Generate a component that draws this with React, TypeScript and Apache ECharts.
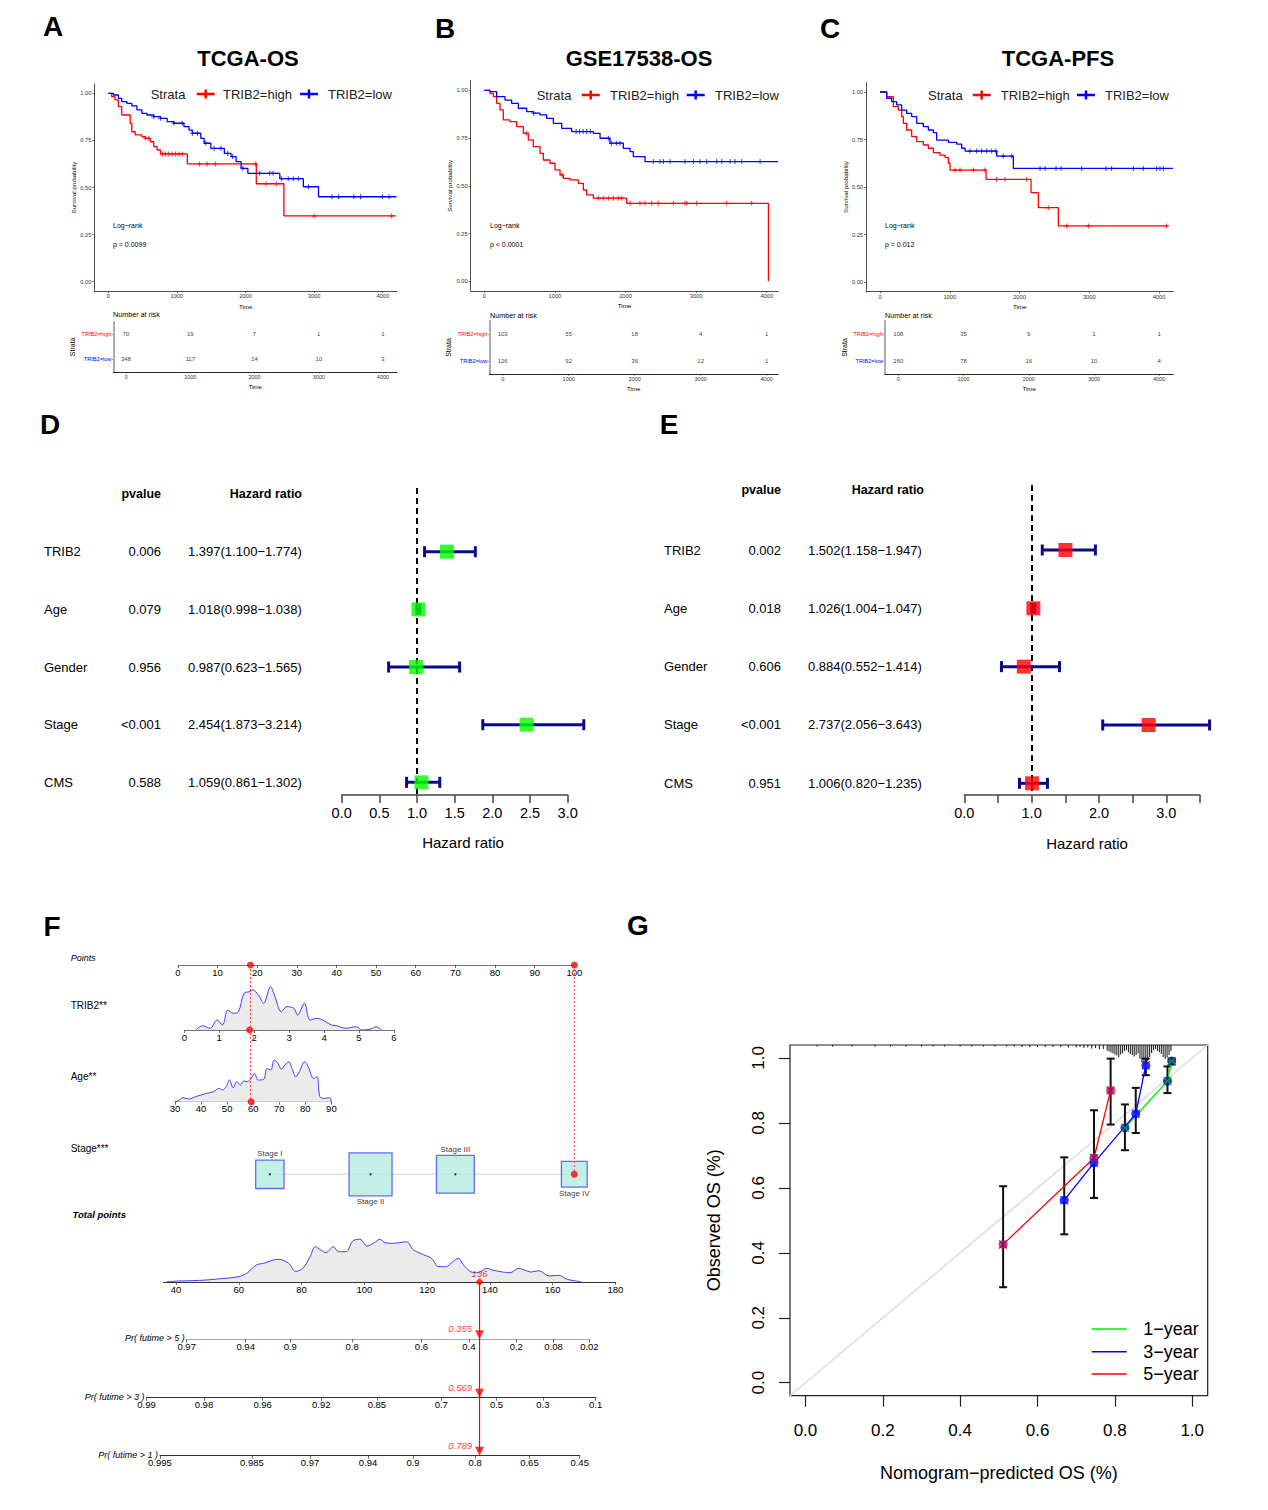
import React, { useEffect, useRef } from "react";
import * as echarts from "echarts";

const FONT = "'Liberation Sans', Arial, Helvetica, sans-serif";

// ================= A–C : Kaplan–Meier =================
const kmTitles = ["TCGA-OS", "GSE17538-OS", "TCGA-PFS"];
const kmPLabels = ["p = 0.0099", "p < 0.0001", "p = 0.012"];
const timeTicks = [0, 1000, 2000, 3000, 4000];
const survTicks = [0, 0.25, 0.5, 0.75, 1];
const strataNames = ["TRIB2=high", "TRIB2=low"];

const kmA_high = [[0,1],[49,0.982],[98,0.965],[147,0.929],[196,0.885],[319,0.84],[343,0.796],[392,0.779],[490,0.77],[539,0.761],[613,0.743],[662,0.717],[711,0.699],[760,0.678],[1152,0.625],[2157,0.52],[2559,0.349],[4191,0.349]];
const kmA_low = [[0,1],[74,0.991],[147,0.973],[196,0.956],[270,0.947],[343,0.933],[417,0.912],[490,0.894],[564,0.885],[662,0.876],[760,0.867],[858,0.85],[956,0.841],[1103,0.823],[1176,0.805],[1225,0.788],[1348,0.761],[1397,0.735],[1495,0.708],[1691,0.681],[1789,0.664],[1863,0.637],[1936,0.602],[2034,0.575],[2500,0.547],[2843,0.504],[3064,0.451],[4200,0.451]];
const censA_high = [539,588,790,830,880,930,980,1030,1080,1330,1440,1560,2150,2300,2450,3000,4130];
const censA_low = [662,760,956,1078,1225,1300,1422,1544,1642,1740,1814,1961,2206,2353,2402,2525,2623,2696,2770,2917,3260,3358,3578,3676,3995,4093];
const riskA_high = [70, 19, 7, 1, 1];
const riskA_low = [348, 117, 24, 10, 3];

const kmB_high = [[0,1],[80,0.984],[128,0.967],[175,0.932],[222,0.897],[269,0.845],[364,0.836],[458,0.81],[553,0.775],[623,0.74],[694,0.705],[789,0.67],[836,0.635],[930,0.618],[1001,0.583],[1072,0.557],[1119,0.539],[1214,0.531],[1332,0.513],[1403,0.478],[1450,0.452],[1544,0.435],[2017,0.408],[4024,0]];
const kmB_low = [[0,1],[80,0.993],[175,0.967],[293,0.949],[387,0.932],[482,0.906],[600,0.888],[694,0.88],[789,0.871],[883,0.853],[978,0.827],[1096,0.801],[1237,0.784],[1544,0.775],[1639,0.749],[1780,0.723],[1969,0.696],[2064,0.679],[2111,0.653],[2276,0.627],[4160,0.627]];
const censB_high = [600,1100,1615,1686,1757,1828,1898,1946,2064,2205,2276,2371,2465,2678,2843,2867,3008,3433,3787];
const censB_low = [700,1300,1350,1400,1450,1500,1757,1800,1870,1922,2394,2489,2536,2630,2843,2961,3055,3150,3292,3363,3481,3551,3646,3906];
const riskB_high = [103, 55, 18, 4, 1];
const riskB_low = [126, 92, 36, 12, 1];

const kmC_high = [[0,1],[96,0.975],[191,0.923],[263,0.905],[311,0.87],[335,0.835],[382,0.8],[454,0.765],[526,0.739],[621,0.721],[693,0.704],[765,0.681],[860,0.668],[932,0.656],[980,0.625],[1004,0.589],[1520,0.54],[2165,0.47],[2270,0.391],[2557,0.295],[4134,0.295]];
const kmC_low = [[0,1],[96,0.967],[167,0.949],[239,0.932],[311,0.905],[382,0.888],[454,0.87],[526,0.835],[621,0.818],[693,0.8],[765,0.786],[812,0.747],[980,0.735],[1099,0.726],[1171,0.704],[1219,0.689],[1673,0.663],[1912,0.598],[4200,0.598]];
const censC_high = [1075,1147,1338,1505,1673,1792,2103,2413,2676,2987,4110];
const censC_low = [1290,1386,1458,1529,1601,1660,1768,1888,2294,2366,2523,2595,2891,3240,3321,3632,3775,3967,4014,4062];
const riskC_high = [108, 35, 9, 1, 1];
const riskC_low = [260, 78, 16, 10, 4];

// ================= D–E : forest plots =================
const forestVars = ["TRIB2", "Age", "Gender", "Stage", "CMS"];
const forestD_p = ["0.006", "0.079", "0.956", "<0.001", "0.588"];
const forestD_hr = [1.397, 1.018, 0.987, 2.454, 1.059];
const forestD_lo = [1.1, 0.998, 0.623, 1.873, 0.861];
const forestD_hi = [1.774, 1.038, 1.565, 3.214, 1.302];
const forestE_p = ["0.002", "0.018", "0.606", "<0.001", "0.951"];
const forestE_hr = [1.502, 1.026, 0.884, 2.737, 1.006];
const forestE_lo = [1.158, 1.004, 0.552, 2.056, 0.82];
const forestE_hi = [1.947, 1.047, 1.414, 3.643, 1.235];

// ================= F : nomogram =================
const trib2Density = [[0.33,0],[0.53,4.3],[0.74,1.7],[0.94,10],[1.09,5],[1.25,20],[1.4,16.7],[1.55,18.3],[1.71,36.7],[1.86,38.3],[1.96,40],[2.12,35],[2.27,26.7],[2.47,43.3],[2.58,35],[2.78,18.3],[2.93,23.3],[3.14,21.7],[3.24,15],[3.44,26.7],[3.6,10],[3.8,11.7],[4.01,9],[4.21,5],[4.36,4.3],[4.62,1.7],[4.93,3.3],[5.08,0],[5.34,1],[5.49,3.3],[5.64,0]];
const ageDensity = [[30,0],[31.1,0.7],[33.1,4],[35.2,2.7],[37.9,5],[40,6.7],[42.1,8.3],[44.8,10],[46.8,13.3],[48.2,11.7],[49.6,15],[50.9,21.7],[52.3,14],[53.7,20],[55.1,16.7],[56.4,20.7],[57.8,20],[59.2,23.3],[60.5,28.3],[61.9,21.7],[64,22.3],[65.3,33.3],[66.7,31.7],[68.1,41.7],[69.5,38.3],[70.8,32.7],[72.2,36.7],[73.6,40],[74.9,33.3],[76.3,25],[77.7,30],[79.7,40],[81.1,35],[83.2,23.3],[84.5,25],[85.6,5],[87.3,3.3],[89.3,4],[90,0]];
const totalDensity = [[36.9,0],[40.6,1],[45.1,1.3],[49.7,2],[54.2,3.3],[58.8,4.7],[62.2,8],[65.6,17],[67.9,18.7],[72.5,22.7],[75.9,18.7],[78.1,10.7],[80.4,13.7],[82.7,25.3],[84.4,35.3],[86.1,32],[87.8,29.3],[90.1,35.3],[91.8,30.3],[94.1,30.3],[96.4,41.3],[98.6,42.7],[100.9,36],[103.2,39.3],[104.9,42.7],[106.6,39.3],[108.9,38.7],[111.1,39.3],[113.4,40.3],[115.7,32],[119.1,27],[121.4,23.7],[123.7,15.3],[125.9,15.3],[128.2,20.3],[129.9,23.7],[131.6,17],[133.9,10.3],[136.2,9.3],[139,13.7],[140.7,12],[144.1,10],[146.4,9.3],[149.2,13.7],[150.9,12],[153.2,10],[155.5,11.3],[158.9,6],[161.8,6.7],[164.6,2.7],[166.9,1.3],[169.2,0]];
const stageLevels = ["Stage I", "Stage II", "Stage III", "Stage IV"];
const stagePoints = [23.2, 48.6, 70.0, 100];
const stageFreq = [0.66, 1.0, 0.88, 0.6];
const patientTRIB2 = 1.87;
const patientAge = 59.2;
const patientStageIdx = 3;
const pointsContrib = [18.3, 100];
const totalPointsValue = 136.7;
const totalPointsLabel = "136";
const totalTicks = [40, 60, 80, 100, 120, 140, 160, 180];
const pr5Labels = ["0.97","0.94","0.9","0.8","0.6","0.4","0.2","0.08","0.02"];
const pr5Points = [43.4, 62.2, 76.4, 96.1, 118.2, 133.3, 148.4, 160.3, 171.7];
const pr3Labels = ["0.99","0.98","0.96","0.92","0.85","0.7","0.5","0.3","0.1"];
const pr3Points = [30.6, 48.9, 67.6, 86.3, 104.0, 124.5, 142.1, 156.9, 173.7];
const pr1Labels = ["0.995","0.985","0.97","0.94","0.9","0.8","0.65","0.45"];
const pr1Points = [34.9, 64.2, 82.7, 101.2, 115.5, 135.3, 152.6, 168.6];
const prNames = ["Pr( futime > 5 )", "Pr( futime > 3 )", "Pr( futime > 1 )"];
const prPredicted = ["0.355", "0.569", "0.789"];

// ================= G : calibration =================
const calTicks = [0, 0.2, 0.4, 0.6, 0.8, 1.0];
const cal1 = [[0.826,0.785],[0.936,0.929],[0.947,0.991]];
const cal3 = [[0.669,0.562],[0.746,0.677],[0.854,0.828],[0.88,0.977]];
const cal5 = [[0.511,0.426],[0.746,0.692],[0.789,0.9]];
const calErr = [[0.511,0.294,0.605],[0.669,0.457,0.694],[0.746,0.569,0.839],[0.789,0.795,0.998],[0.826,0.716,0.857],[0.854,0.769,0.908],[0.88,0.947,0.998],[0.936,0.892,0.974],[0.947,0.98,0.998]];
const calRug = [[0.03,0.08],[0.07,0.08],[0.12,0.08],[0.18,0.08],[0.22,0.08],[0.26,0.08],[0.3,0.08],[0.33,0.08],[0.36,0.08],[0.4,0.08],[0.43,0.08],[0.46,0.08],[0.49,0.08],[0.52,0.08],[0.54,0.08],[0.56,0.1],[0.58,0.1],[0.6,0.1],[0.62,0.1],[0.64,0.1],[0.66,0.1],[0.68,0.12],[0.7,0.12],[0.71,0.1],[0.72,0.15],[0.73,0.12],[0.74,0.18],[0.75,0.15],[0.76,0.22],[0.77,0.2],[0.78,0.28],[0.785,0.32],[0.79,0.38],[0.795,0.42],[0.8,0.48],[0.805,0.52],[0.81,0.6],[0.815,0.48],[0.82,0.42],[0.825,0.3],[0.83,0.26],[0.835,0.36],[0.84,0.45],[0.845,0.5],[0.85,0.58],[0.855,0.5],[0.86,0.42],[0.865,0.7],[0.87,0.85],[0.875,1.0],[0.88,0.95],[0.885,0.8],[0.89,0.6],[0.895,0.4],[0.9,0.26],[0.905,0.2],[0.91,0.3],[0.915,0.36],[0.92,0.45],[0.925,0.6],[0.93,0.7],[0.935,0.62],[0.94,0.5],[0.945,0.3]];
const calLegend = ["1\u2212year", "3\u2212year", "5\u2212year"];

// ---------------- layout (positions only) ----------------
const kmLayout = [
  { left: 94.3, right: 397, top: 83.9, bottom: 291.1, xMin: -204, xMax: 4208, rLeft: 113.3, rRight: 397, rTop: 321.7, rBottom: 372, rMin: -198, rMax: 4218, titleX: 248, lg: [150.7, 196.7, 223, 300, 328], lgY: 94, logX: 113, numY: 314 },
  { left: 470.7, right: 778.3, top: 80.75, bottom: 290.85, xMin: -193, xMax: 4164, rLeft: 489.3, rRight: 778.3, rTop: 320.7, rBottom: 374.3, rMin: -203, rMax: 4176, titleX: 639, lg: [536.7, 581.7, 610, 686.7, 715], lgY: 95, logX: 490, numY: 315 },
  { left: 866, right: 1173.3, top: 82.5, bottom: 291.5, xMin: -201, xMax: 4205, rLeft: 885, rRight: 1173.3, rTop: 320.7, rBottom: 374.3, rMin: -204, rMax: 4215, titleX: 1058, lg: [928, 972.7, 1000.7, 1077, 1105], lgY: 95, logX: 885, numY: 315 },
];
const TP0 = 176, TPK = 3.139; // total-points scale: 40 pts at x=176

const plusSymbol = "path://M4,0H6V4H10V6H6V10H4V6H0V4H4Z";
const crossSymbol = "path://M0,1L1,0L5,4L9,0L10,1L6,5L10,9L9,10L5,6L1,10L0,9L4,5Z";

function stepAt(curve: number[][], t: number) {
  let s = curve[0][1];
  for (const [tt, ss] of curve) { if (tt <= t) s = ss; else break; }
  return s;
}

function buildOption(idx: any) {
  const grid: any[] = [], xAxis: any[] = [], yAxis: any[] = [], series: any[] = [];
  const add = (g: any, x: any, y: any) => {
    const i = grid.length;
    grid.push({ ...g, containLabel: false, outerBoundsMode: "none" });
    xAxis.push({ splitLine: { show: false }, ...x, gridIndex: i });
    yAxis.push({ splitLine: { show: false }, ...y, gridIndex: i });
    return i;
  };
  const on = (i: number, s: any) => series.push({ ...s, xAxisIndex: i, yAxisIndex: i });
  const hidden = (min: number, max: number, extra: any = {}) => ({ type: "value", show: false, min, max, ...extra });
  const plain = (v: number) => String(v);

  // ---- KM panels ----
  const kmHigh = [kmA_high, kmB_high, kmC_high];
  const kmLow = [kmA_low, kmB_low, kmC_low];
  const cHigh = [censA_high, censB_high, censC_high];
  const cLow = [censA_low, censB_low, censC_low];
  const rHigh = [riskA_high, riskB_high, riskC_high];
  const rLow = [riskA_low, riskB_low, riskC_low];
  idx.km = []; idx.risk = [];
  kmLayout.forEach((L, p) => {
    const al = { show: true, onZero: false, lineStyle: { color: "#222", width: 0.8 } };
    const i = add(
      { left: L.left, top: L.top, width: L.right - L.left, height: L.bottom - L.top },
      { type: "value", min: L.xMin, max: L.xMax, axisLine: al,
        axisTick: { show: true, length: 2, customValues: timeTicks, lineStyle: { color: "#222", width: 0.6 } },
        axisLabel: { customValues: timeTicks, formatter: plain, fontSize: 5.7, color: "#333", margin: 2 },
        name: "Time", nameLocation: "middle", nameGap: 12, nameTextStyle: { fontSize: 6.2, color: "#000" } },
      { type: "value", min: -0.05, max: 1.05, axisLine: al,
        axisTick: { show: true, length: 2, customValues: survTicks, lineStyle: { color: "#222", width: 0.6 } },
        axisLabel: { customValues: survTicks, formatter: (v: number) => v.toFixed(2), fontSize: 5.7, color: "#333", margin: 3 },
        name: "Survival probability", nameLocation: "middle", nameGap: 17, nameTextStyle: { fontSize: 6.2, color: "#000" } }
    );
    idx.km.push(i);
    [[kmHigh[p], cHigh[p], "#ff0000"], [kmLow[p], cLow[p], "#0000ff"]].forEach(([curve, cens, col]: any) => {
      on(i, { type: "line", data: curve, step: "end", showSymbol: false, silent: true, lineStyle: { color: col, width: 1.3 }, z: 3 });
      on(i, { type: "scatter", data: cens.map((t: number) => [t, stepAt(curve, t)]), symbol: plusSymbol, symbolSize: 5, itemStyle: { color: col }, silent: true, z: 4 });
    });
    // risk table
    const r = add(
      { left: L.rLeft, top: L.rTop, width: L.rRight - L.rLeft, height: L.rBottom - L.rTop },
      { type: "value", min: L.rMin, max: L.rMax,
        axisLine: { show: true, onZero: false, lineStyle: { color: "#111", width: 0.9 } },
        axisTick: { show: true, length: 1.5, customValues: timeTicks, lineStyle: { color: "#333", width: 0.6 } },
        axisLabel: { customValues: timeTicks, formatter: plain, fontSize: 5.5, color: "#333", margin: 2 },
        name: "Time", nameLocation: "middle", nameGap: 11, nameTextStyle: { fontSize: 6.2, color: "#000" } },
      { type: "category", inverse: true, data: strataNames,
        axisLine: { show: true, onZero: false, lineStyle: { color: "#999", width: 1.6 } },
        axisTick: { show: true, length: 1.5, alignWithLabel: true, lineStyle: { color: "#999" } },
        axisLabel: { margin: 2, formatter: (v: string) => (v === strataNames[0] ? `{h|${v}}` : `{l|${v}}`),
          rich: { h: { color: "#ff0000", fontSize: 5.6 }, l: { color: "#0000ff", fontSize: 5.6 } } },
        name: "Strata", nameLocation: "middle", nameGap: 37, nameTextStyle: { fontSize: 7, color: "#000" } }
    );
    idx.risk.push(r);
    [[rHigh[p], strataNames[0]], [rLow[p], strataNames[1]]].forEach(([vals, nm]: any) => {
      on(r, { type: "scatter", data: timeTicks.map((t, k) => [t, nm, vals[k]]), symbolSize: 1,
        itemStyle: { color: "rgba(0,0,0,0)" }, silent: true,
        label: { show: true, position: "inside", formatter: (q: any) => String(q.value[2]), fontSize: 6, color: "#000" } });
    });
  });

  // ---- forest plots ----
  const forest = (left: number, kpx: number, dataMax: number, axisMax: number, top: number, row0: number, rowH: number,
                  hr: number[], lo: number[], hi: number[], col: string, halfLabels: boolean) => {
    const bottom = 795;
    const ymin = -(row0 - top) / rowH;
    const ymax = ymin + (bottom - top) / rowH;
    const d = add({ left, top, width: dataMax * kpx, height: bottom - top }, hidden(0, dataMax), hidden(ymin, ymax, { inverse: true }));
    on(d, { type: "custom", clip: false, silent: true, z: 3,
      data: hr.map((_, k) => [lo[k], hi[k], k]),
      renderItem: (_p: any, api: any) => {
        const a = api.coord([api.value(0), api.value(2)]);
        const b = api.coord([api.value(1), api.value(2)]);
        const st = { stroke: "#0a0a8c", lineWidth: 3 };
        return { type: "group", children: [
          { type: "line", shape: { x1: a[0], y1: a[1], x2: b[0], y2: b[1] }, style: st },
          { type: "line", shape: { x1: a[0], y1: a[1] - 5.5, x2: a[0], y2: a[1] + 5.5 }, style: st },
          { type: "line", shape: { x1: b[0], y1: b[1] - 5.5, x2: b[0], y2: b[1] + 5.5 }, style: st },
        ] };
      } });
    on(d, { type: "scatter", data: hr.map((h, k) => [h, k]), symbol: "rect", symbolSize: 14, silent: true, z: 5,
      itemStyle: { color: col },
      markLine: { symbol: "none", silent: true, label: { show: false }, z: 2,
        lineStyle: { color: "#000", type: [6, 4], width: 2 }, data: [{ xAxis: 1 }] } });
    add({ left, top: 780, width: axisMax * kpx, height: 15 },
      { type: "value", min: 0, max: axisMax, interval: 0.5,
        axisLine: { show: true, onZero: false, lineStyle: { color: "#444", width: 1.5 } },
        axisTick: { show: true, length: 8, lineStyle: { color: "#444", width: 1.5 } },
        axisLabel: { fontSize: 14.5, color: "#000", margin: 10, showMinLabel: true, showMaxLabel: true,
          formatter: (v: number) => (halfLabels || Math.abs(v - Math.round(v)) < 1e-9 ? v.toFixed(1) : "") } },
      hidden(0, 1));
    return d;
  };
  idx.forestD = forest(341.7, 75.33, 3.4, 3, 488, 551.7, 57.66, forestD_hr, forestD_lo, forestD_hi, "#00ff00", true);
  idx.forestE = forest(964.3, 67.33, 3.8, 3.5, 485, 550, 58.33, forestE_hr, forestE_lo, forestE_hi, "#ff0000", false);

  // ---- nomogram ----
  const nomAxis = (min: number, max: number, interval: number | null, color = "#777", ticks?: number[], fmt?: any) => ({
    type: "value", min, max, ...(interval ? { interval } : {}),
    axisLine: { show: true, onZero: false, lineStyle: { color, width: 1.2 } },
    axisTick: { show: true, length: 3, lineStyle: { color: "#444", width: 0.8 }, ...(ticks ? { customValues: ticks } : {}) },
    axisLabel: { fontSize: 9.5, color: "#000", margin: 2, showMinLabel: true, showMaxLabel: true,
      ...(ticks ? { customValues: ticks } : {}), formatter: fmt || plain },
  });
  const dens = { type: "line", smooth: 0.35, showSymbol: false, silent: true,
    lineStyle: { color: "#2b2bff", width: 0.9 }, areaStyle: { color: "#ebebeb", opacity: 1 } };
  const redDot = { type: "scatter", symbolSize: 7, itemStyle: { color: "#ff0000" }, silent: true, z: 6 };

  idx.pts = add({ left: 177.9, top: 955, width: 396.4, height: 10 }, nomAxis(0, 100, 10), hidden(0, 1));
  on(idx.pts, { ...redDot, data: pointsContrib.map((v) => [v, 0]) });

  idx.trib2 = add({ left: 184.3, top: 985, width: 209.6, height: 45 }, nomAxis(0, 6, 1), hidden(0, 45));
  on(idx.trib2, { ...dens, data: trib2Density });
  on(idx.trib2, { ...redDot, data: [[patientTRIB2, 0]] });

  idx.age = add({ left: 175, top: 1056.7, width: 156.4, height: 45 }, nomAxis(30, 90, 10), hidden(0, 45));
  on(idx.age, { ...dens, data: ageDensity });
  on(idx.age, { ...redDot, data: [[patientAge, 0]] });

  idx.stage = add({ left: 177.9, top: 1164.3, width: 396.4, height: 10 }, hidden(0, 100), hidden(0, 1));
  on(idx.stage, { type: "line", data: stagePoints.map((v) => [v, 0]), showSymbol: false, silent: true, z: 1,
    lineStyle: { color: "#c8c8c8", width: 1 } });
  on(idx.stage, { type: "scatter", symbol: "rect", silent: true, z: 3,
    data: stagePoints.map((v, k) => ({ value: [v, 0], symbolSize: 43 * stageFreq[k],
      label: { position: k % 2 === 0 ? "top" : "bottom" } })),
    itemStyle: { color: "#b4ebe1", borderColor: "#4646ff", borderWidth: 1.3 },
    label: { show: true, distance: 1.5, fontSize: 8, color: "#000", formatter: (q: any) => stageLevels[q.dataIndex] } });
  on(idx.stage, { type: "scatter", silent: true, z: 4, symbolSize: 2.2, itemStyle: { color: "#000" },
    data: stagePoints.filter((_, k) => k !== patientStageIdx).map((v) => [v, 0]) });
  on(idx.stage, { ...redDot, data: [[stagePoints[patientStageIdx], 0]] });

  idx.total = add({ left: TP0 + (36 - 40) * TPK, top: 1237, width: (180 - 36) * TPK, height: 45 },
    nomAxis(36, 180, null, "#333", totalTicks), hidden(0, 45));
  on(idx.total, { ...dens, data: totalDensity });
  on(idx.total, { ...redDot, symbol: "diamond", symbolSize: 8, data: [[totalPointsValue, 0]],
    label: { show: true, position: "top", distance: 0, formatter: totalPointsLabel, color: "#ff0000", fontStyle: "italic", fontSize: 9.5 } });

  const prSets = [[pr5Labels, pr5Points, 1339.3, "#aaaaaa"], [pr3Labels, pr3Points, 1397.7, "#333"], [pr1Labels, pr1Points, 1455.7, "#333"]];
  idx.pr = [];
  prSets.forEach(([labels, pts, y, col]: any, k) => {
    const mn = pts[0], mx = pts[pts.length - 1];
    const fmt = (v: number) => { const j = pts.findIndex((p: number) => Math.abs(p - v) < 1e-6); return j >= 0 ? labels[j] : ""; };
    const g = add({ left: TP0 + (mn - 40) * TPK, top: y - 10, width: (mx - mn) * TPK, height: 10 },
      nomAxis(mn, mx, null, col, pts, fmt), hidden(0, 1));
    idx.pr.push(g);
    on(g, { type: "scatter", symbol: "triangle", symbolRotate: 180, symbolSize: [9, 9], symbolOffset: [0, -4.5], silent: true, z: 6,
      itemStyle: { color: "#ff0000" }, data: [[totalPointsValue, 0]],
      label: { show: true, position: "left", distance: 3, offset: [0, -6], formatter: prPredicted[k], color: "#ff0000", fontStyle: "italic", fontSize: 9.5 } });
  });

  // ---- calibration ----
  const calAxisLab = { customValues: calTicks, formatter: (v: number) => v.toFixed(1), fontSize: 17, color: "#000" };
  const calTick = { show: true, length: 11, customValues: calTicks, lineStyle: { color: "#222", width: 1.2 } };
  idx.cal = add({ left: 790, top: 1045, width: 417.7, height: 350.7, show: true, borderColor: "#222", borderWidth: 1.2 },
    { type: "value", min: -0.04, max: 1.04, axisLine: { show: false, onZero: false }, axisTick: calTick,
      axisLabel: { ...calAxisLab, margin: 26 },
      name: "Nomogram\u2212predicted OS (%)", nameLocation: "middle", nameGap: 68, nameTextStyle: { fontSize: 18, color: "#000" } },
    { type: "value", min: -0.04, max: 1.04, axisLine: { show: false, onZero: false }, axisTick: calTick,
      axisLabel: { ...calAxisLab, rotate: 90, margin: 23 },
      name: "Observed OS (%)", nameLocation: "middle", nameGap: 67, nameTextStyle: { fontSize: 18, color: "#000" } });
  const c = idx.cal;
  on(c, { type: "line", data: [[-0.04, -0.04], [1.04, 1.04]], showSymbol: false, silent: true, z: 1, lineStyle: { color: "#dcdcdc", width: 1.5 } });
  on(c, { type: "custom", silent: true, clip: false, z: 2, data: calRug,
    renderItem: (_p: any, api: any) => {
      const p = api.coord([api.value(0), 1.04]);
      return { type: "line", shape: { x1: p[0], y1: p[1], x2: p[0], y2: p[1] + api.value(1) * 20 }, style: { stroke: "#111", lineWidth: 1 } };
    } });
  on(c, { type: "custom", silent: true, clip: false, z: 3, data: calErr,
    renderItem: (_p: any, api: any) => {
      const a = api.coord([api.value(0), api.value(1)]);
      const b = api.coord([api.value(0), api.value(2)]);
      const st = { stroke: "#111", lineWidth: 2 };
      return { type: "group", children: [
        { type: "line", shape: { x1: a[0], y1: a[1], x2: b[0], y2: b[1] }, style: st },
        { type: "line", shape: { x1: a[0] - 4, y1: a[1], x2: a[0] + 4, y2: a[1] }, style: st },
        { type: "line", shape: { x1: b[0] - 4, y1: b[1], x2: b[0] + 4, y2: b[1] }, style: st },
      ] };
    } });
  const calSets = [[cal1, "#00ee00", "#0000cc", "#00bb00"], [cal3, "#0000ff", "#0000ff", "#2020ff"], [cal5, "#ff0000", "#ff0000", "#2020ff"]];
  calSets.forEach(([d, lc, dc, xc]: any) => {
    on(c, { type: "line", data: d, showSymbol: false, silent: true, z: 4, lineStyle: { color: lc, width: 1.3 } });
    on(c, { type: "scatter", data: d, symbolSize: 9, silent: true, z: 5, itemStyle: { color: dc } });
    on(c, { type: "scatter", data: d, symbol: crossSymbol, symbolSize: 9, silent: true, z: 6, itemStyle: { color: xc } });
  });

  return { animation: false, backgroundColor: "#fff", textStyle: { fontFamily: FONT }, grid, xAxis, yAxis, series };
}

function buildGraphics(chart: any, idx: any) {
  const g: any[] = [];
  const text = (x: number, y: number, t: string, o: any = {}) =>
    g.push({ type: "text", x, y, silent: true, z: 100, style: { text: t, fill: o.fill || "#000", fontSize: o.size || 12,
      fontFamily: FONT, fontWeight: o.weight || "normal", fontStyle: o.style || "normal",
      align: o.align || "left", verticalAlign: o.va || "middle" } });
  const line = (x1: number, y1: number, x2: number, y2: number, stroke: string, lw: number, dash?: number[]) =>
    g.push({ type: "line", silent: true, z: 90, shape: { x1, y1, x2, y2 }, style: { stroke, lineWidth: lw, lineDash: dash || null } });
  const px = (gi: number, v: any) => chart.convertToPixel({ gridIndex: gi }, v);

  // panel letters
  [["A", 53, 26], ["B", 445, 28], ["C", 830, 28], ["D", 50, 424], ["E", 669, 424], ["F", 52, 926], ["G", 638, 925]]
    .forEach(([t, x, y]: any) => text(x, y, t, { size: 28, weight: "bold", align: "center" }));

  // KM titles, legends, annotations
  kmLayout.forEach((L, p) => {
    text(L.titleX, 58, kmTitles[p], { size: 22, weight: "bold", align: "center" });
    const [xs, xr, xh, xb, xl] = L.lg;
    const y = L.lgY;
    text(xs, y, "Strata", { size: 13, fill: "#222" });
    [[xr, "#ff0000"], [xb, "#0000ff"]].forEach(([x0, col]: any) => {
      line(x0, y, x0 + 18, y, col, 2.5);
      line(x0 + 9, y - 4.5, x0 + 9, y + 4.5, col, 2.5);
    });
    text(xh, y, strataNames[0], { size: 13, fill: "#222" });
    text(xl, y, strataNames[1], { size: 13, fill: "#222" });
    text(L.logX, 225.5, "Log\u2212rank", { size: 7 });
    text(L.logX, 244, kmPLabels[p], { size: 7 });
    text(L.logX, L.numY, "Number at risk", { size: 7.2 });
  });

  // forest text tables
  const table = (d: number, xName: number, xP: number, xHR: number, xHead: number, yHead: number, pv: string[], hr: number[], lo: number[], hi: number[]) => {
    text(xP, yHead, "pvalue", { size: 12.5, weight: "bold", align: "right" });
    text(xHead, yHead, "Hazard ratio", { size: 12.5, weight: "bold", align: "right" });
    forestVars.forEach((nm, k) => {
      const y = px(d, [0, k])[1];
      text(xName, y, nm, { size: 13 });
      text(xP, y, pv[k], { size: 13, align: "right" });
      text(xHR, y, `${hr[k].toFixed(3)}(${lo[k].toFixed(3)}\u2212${hi[k].toFixed(3)})`, { size: 13 });
    });
  };
  table(idx.forestD, 44, 161, 188, 302, 494, forestD_p, forestD_hr, forestD_lo, forestD_hi);
  table(idx.forestE, 664, 781, 808, 924, 490, forestE_p, forestE_hr, forestE_lo, forestE_hi);
  text(463, 842, "Hazard ratio", { size: 15, align: "center" });
  text(1087, 843, "Hazard ratio", { size: 15, align: "center" });

  // nomogram labels
  text(70.7, 958.3, "Points", { size: 9, style: "italic" });
  text(70.7, 1005, "TRIB2**", { size: 10 });
  text(70.7, 1076.7, "Age**", { size: 10 });
  text(70.7, 1148.3, "Stage***", { size: 10 });
  text(72.5, 1214, "Total points", { size: 9.5, weight: "bold", style: "italic" });
  idx.pr.forEach((gi: number, k: number) => {
    const p0 = px(gi, [[pr5Points, pr3Points, pr1Points][k][0], 0]);
    text(p0[0] - 2, p0[1] - 1, prNames[k], { size: 9, style: "italic", align: "right" });
  });
  // red link lines
  const a1 = px(idx.pts, [pointsContrib[0], 0]);
  const a2 = px(idx.age, [patientAge, 0]);
  line(a1[0], a1[1], a1[0], a2[1], "#ff4040", 1, [2, 2]);
  const b1 = px(idx.pts, [pointsContrib[1], 0]);
  const b2 = px(idx.stage, [stagePoints[patientStageIdx], 0]);
  line(b1[0], b1[1], b1[0], b2[1], "#ff4040", 1, [2, 2]);
  const t1 = px(idx.total, [totalPointsValue, 0]);
  const t2 = px(idx.pr[2], [totalPointsValue, 0]);
  line(t1[0], t1[1], t1[0], t2[1] - 4, "#ff0000", 1.2);

  // calibration legend
  const legCols = ["#00ee00", "#0000ff", "#ff0000"];
  [1329, 1351.7, 1374].forEach((y, k) => {
    line(1091.7, y, 1126.7, y, legCols[k], 1.5);
    text(1143.3, y, calLegend[k], { size: 18 });
  });
  return g;
}

export default function App() {
  const ref = useRef<HTMLDivElement>(null);
  useEffect(() => {
    const chart = echarts.init(ref.current as HTMLDivElement, null, { renderer: "svg" });
    const idx: any = {};
    chart.setOption(buildOption(idx));
    chart.setOption({ graphic: buildGraphics(chart, idx) });
    return () => chart.dispose();
  }, []);
  return <div ref={ref} style={{ position: "absolute", left: 0, top: 0, width: 1268, height: 1510, background: "#fff" }} />;
}
